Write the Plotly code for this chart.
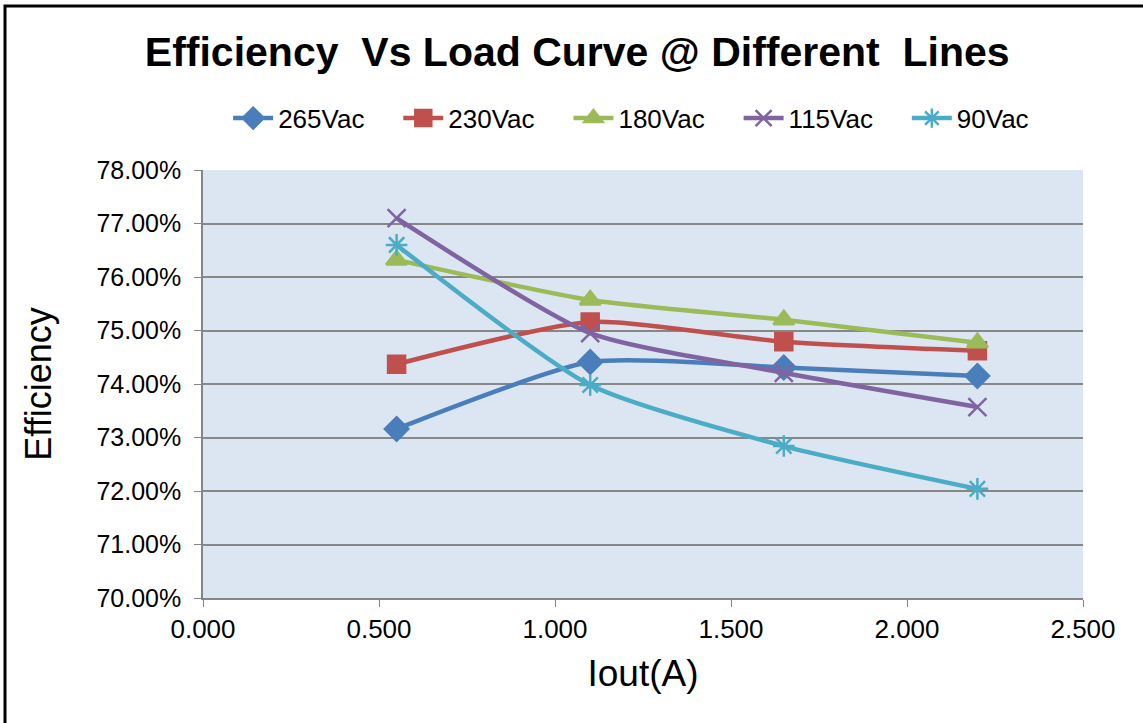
import plotly.graph_objects as go

iout = [0.55, 1.10, 1.65, 2.20]
eff_265 = [73.16, 74.41, 74.31, 74.15]
eff_230 = [74.37, 75.16, 74.79, 74.62]
eff_180 = [76.32, 75.57, 75.20, 74.77]
eff_115 = [77.10, 74.95, 74.21, 73.57]
eff_90 = [76.60, 73.98, 72.84, 72.04]

series = [
    ("265Vac", eff_265, "#4A7EBB", "diamond", 18),
    ("230Vac", eff_230, "#C0504D", "square", 17),
    ("180Vac", eff_180, "#9BBB59", "triangle-up", 18),
    ("115Vac", eff_115, "#8064A2", "x-thin-open", 18),
    ("90Vac", eff_90, "#4BACC6", "asterisk-open", 18),
]

pad = "\u00a0" * 4
fig = go.Figure()
for name, ys, color, sym, size in series:
    fig.add_trace(go.Scatter(
        x=iout, y=ys, name=name + pad, mode="lines+markers",
        line=dict(color=color, width=4.5, shape="spline", smoothing=0.6),
        marker=dict(symbol=sym, size=size, color=color,
                    line=dict(color=color, width=2.5)),
    ))

font = "Liberation Sans, Arial, sans-serif"
fig.update_layout(
    width=1143, height=723,
    margin=dict(l=203, r=60, t=170, b=125),
    paper_bgcolor="white",
    plot_bgcolor="#DCE6F2",
    font=dict(family=font, color="black", size=25),
    title=dict(text="<b>Efficiency  Vs Load Curve @ Different  Lines</b>",
               x=0.505, xanchor="center", y=0.928, yanchor="middle",
               font=dict(size=41, family=font, color="black")),
    legend=dict(orientation="h", x=0.503, xanchor="center", y=1.121, yanchor="middle",
                font=dict(size=26), bgcolor="rgba(0,0,0,0)", itemwidth=40,
                traceorder="normal"),
    showlegend=True,
    xaxis=dict(range=[0, 2.5], dtick=0.5, tick0=0, tickformat=".3f",
               showgrid=False, zeroline=False, showline=True, linecolor="#868686",
               linewidth=1.5, ticks="outside", ticklen=7, tickcolor="#868686",
               tickfont=dict(size=26),
               title=dict(text="Iout(A)", font=dict(size=37), standoff=17)),
    yaxis=dict(range=[70, 78], dtick=1, tick0=70, tickformat=".2f", ticksuffix="%",
               showgrid=True, gridcolor="#878787", gridwidth=1.5, zeroline=False,
               showline=True, linecolor="#868686", linewidth=1.5,
               ticks="outside", ticklen=7, tickcolor="#868686",
               ticklabelstandoff=8,
               tickfont=dict(size=25),
               title=dict(text="Efficiency", font=dict(size=36), standoff=34)),
    shapes=[dict(type="rect", xref="paper", yref="paper",
                 x0=-0.225, x1=1.2, y0=-0.5, y1=1.383,
                 line=dict(color="black", width=3), fillcolor="rgba(0,0,0,0)",
                 layer="above")],
)

fig.write_html("out.html", config={"displayModeBar": False},
               post_script="document.body.style.margin='0';")
